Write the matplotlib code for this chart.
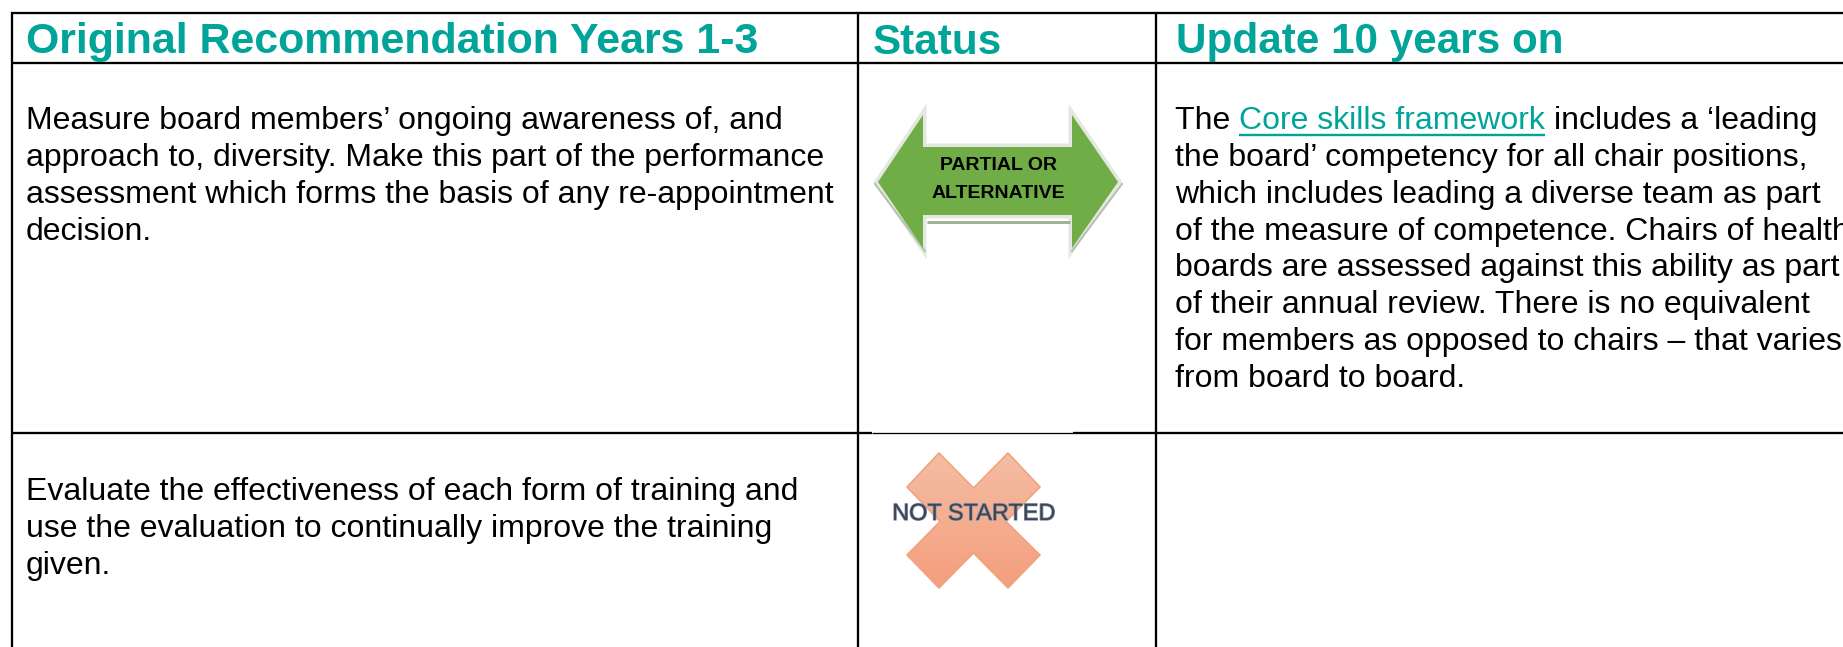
import numpy as np
import matplotlib
matplotlib.use("Agg")
import matplotlib.pyplot as plt
import matplotlib.patheffects as pe
from matplotlib.patches import Polygon

W, H = 1843, 647
TEAL = "#00A499"
FONT = "Liberation Sans"

headers = ["Original Recommendation Years 1-3", "Status", "Update 10 years on"]
header_x = [26, 873, 1176]
header_y = [52.5, 53.5, 52.5]
header_size = [42.85, 42.3, 42.3]
left_lines_1 = ["Measure board members’ ongoing awareness of, and",
                "approach to, diversity. Make this part of the performance",
                "assessment which forms the basis of any re-appointment",
                "decision."]
left_lines_2 = ["Evaluate the effectiveness of each form of training and",
                "use the evaluation to continually improve the training",
                "given."]
right_lines = ["includes a ‘leading",
               "the board’ competency for all chair positions,",
               "which includes leading a diverse team as part",
               "of the measure of competence. Chairs of health",
               "boards are assessed against this ability as part",
               "of their annual review. There is no equivalent",
               "for members as opposed to chairs – that varies",
               "from board to board."]
arrow_label = ["PARTIAL OR", "ALTERNATIVE"]
x_label = "NOT STARTED"

arrow_xy = [(878, 182), (923, 115), (923, 147), (1072, 147), (1072, 115),
            (1118, 182), (1072, 248), (1072, 215), (923, 215), (923, 248)]
cross_xy = [(939, 453), (973.5, 488), (1008, 453), (1040, 487), (1006, 521.5),
            (1040, 555), (1008, 588), (973.5, 553), (939, 588), (907, 555),
            (940, 521.5), (907, 487)]

fig = plt.figure(figsize=(W / 100, H / 100), dpi=100, facecolor="white")
ax = fig.add_axes([0, 0, 1, 1])
ax.set_xlim(0, W)
ax.set_ylim(H, 0)
ax.axis("off")

px = 0.72  # pixels to points at dpi 100
RULE = 2.3 * px

# table rules
ax.plot([11, W], [13, 13], color="black", lw=RULE, solid_capstyle="butt")
ax.plot([11, W], [62.5, 62.5], color="black", lw=RULE, solid_capstyle="butt")
ax.plot([11, 872], [433, 433], color="black", lw=RULE, solid_capstyle="butt")
ax.plot([872, 1073], [432.5, 432.5], color="black", lw=1.3 * px, solid_capstyle="butt")
ax.plot([1073, W], [433, 433], color="black", lw=RULE, solid_capstyle="butt")
for xv in [12, 857.7, 1155.5]:
    ax.plot([xv, xv], [12, H], color="black", lw=RULE, solid_capstyle="butt")


def T(x, y, s, size, color="black", weight="normal", family=FONT, **kw):
    return ax.text(x, y, s, fontsize=size * px, color=color, fontweight=weight,
                   family=family, va="baseline", ha=kw.pop("ha", "left"), **kw)


for x, y, s, fs in zip(header_x, header_y, headers, header_size):
    T(x, y, s, fs, TEAL, "bold")

body = 32.0
step = 36.85
for i, s in enumerate(left_lines_1):
    T(26, 129 + i * step, s, body)
for i, s in enumerate(left_lines_2):
    T(26, 500 + i * step, s, body)

# right column, first line carries the link
fig.canvas.draw()
r = fig.canvas.get_renderer()
T(1175, 129, "The ", body)
x1 = 1239
t1 = T(x1, 129, "Core skills framework", body, TEAL)
x2 = x1 + t1.get_window_extent(r).width
ax.plot([x1, x2], [134.5, 134.5], color=TEAL, lw=2.4 * px, solid_capstyle="butt")
T(x2 + 9, 129, right_lines[0], body)
for i, s in enumerate(right_lines[1:], start=1):
    T(1175, 129 + i * step, s, body)

# double-headed arrow: bevel, shadow, body
ax.add_patch(Polygon(arrow_xy, closed=True, facecolor="none", edgecolor="#E3E8E0",
                     lw=7 * px, joinstyle="miter", zorder=2))
ax.plot([927, 1070], [221.5, 221.5], color="#A3B397", lw=3 * px, zorder=2.5,
        solid_capstyle="butt")
ax.plot([1072, 1122], [251, 184], color="#B5C0AE", lw=2 * px, zorder=2.5)
ax.plot([875, 925], [184, 251], color="#B5C0AE", lw=2 * px, zorder=2.5)
ax.add_patch(Polygon(arrow_xy, closed=True, facecolor="#70AD47", edgecolor="none", zorder=3))
for y, s in zip([170, 198], arrow_label):
    T(998, y, s, 19.5, "black", "bold", ha="center", zorder=4)

# cross with a vertical gradient
grad = np.linspace(0, 1, 256)[:, None]
c0, c1 = np.array([0xF5, 0xBD, 0xA4]) / 255, np.array([0xF4, 0x9E, 0x7C]) / 255
rgb = (c0 + (c1 - c0) * grad[..., None]).reshape(256, 1, 3)
im = ax.imshow(rgb, extent=(907, 1040, 588, 453), aspect="auto", zorder=2)
cross = Polygon(cross_xy, closed=True, facecolor="none", edgecolor="#F0A27E",
                lw=1.6 * px, zorder=3, joinstyle="round")
ax.add_patch(cross)
im.set_clip_path(cross)
ax.set_xlim(0, W)
ax.set_ylim(H, 0)
t = T(973.5, 520, x_label, 23.5, "#3C4654", ha="center", zorder=4)
t.set_path_effects([pe.withStroke(linewidth=1.0, foreground="#7F8FA8")])

fig.savefig("out.png", dpi=100, facecolor="white")
